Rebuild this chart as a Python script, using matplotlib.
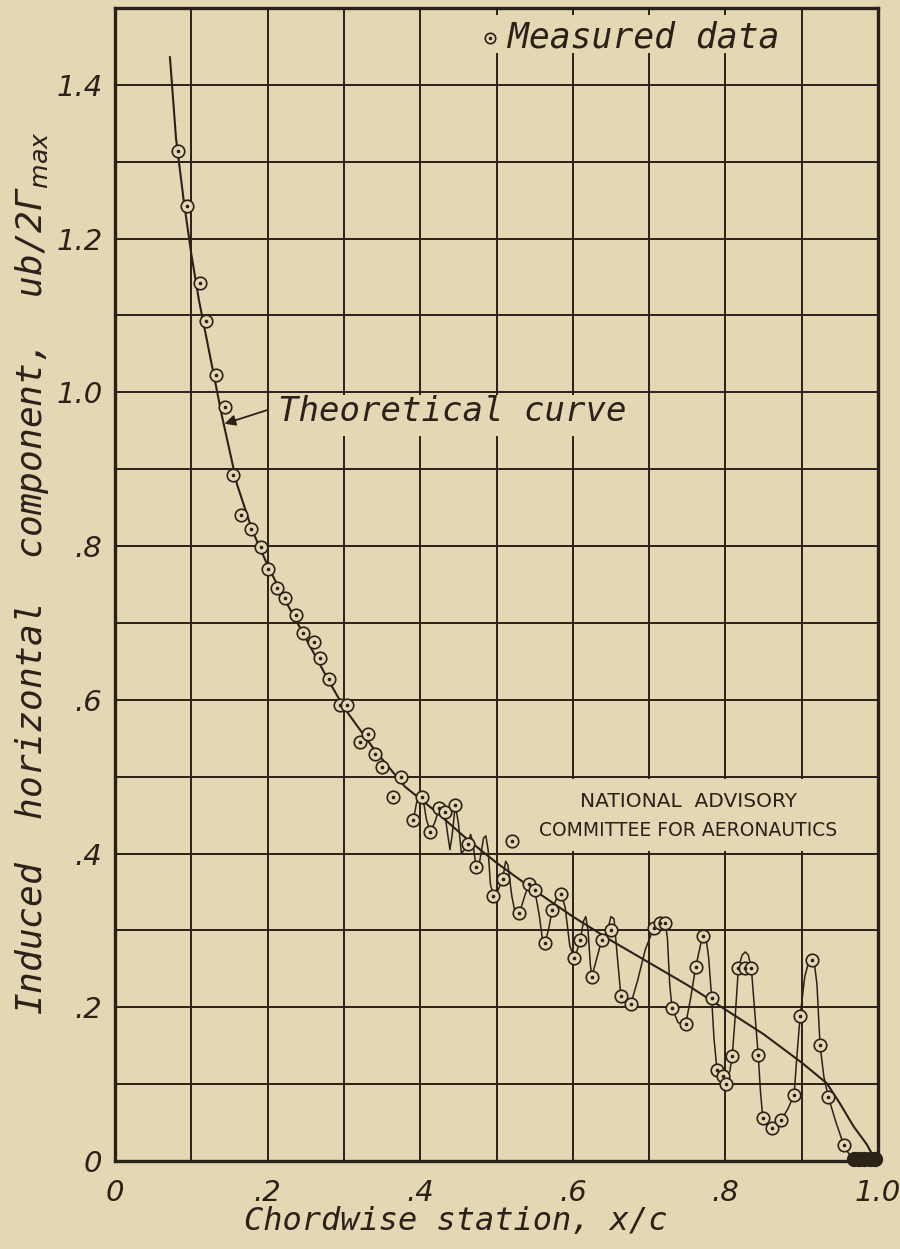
import numpy as np
import matplotlib
matplotlib.use("Agg")
import matplotlib.pyplot as plt
from matplotlib.patches import Rectangle

# ---------------- data ----------------
# Theoretical curve
theory_x = [0.072, 0.080, 0.090, 0.100, 0.110, 0.120, 0.130, 0.140, 0.150, 0.160,
            0.180, 0.200, 0.220, 0.250, 0.280, 0.300, 0.340, 0.380, 0.420, 0.460,
            0.500, 0.550, 0.600, 0.650, 0.700, 0.750, 0.800, 0.850, 0.900, 0.933,
            0.950, 0.968, 0.985, 0.994, 1.000]
theory_y = [1.436, 1.330, 1.250, 1.180, 1.120, 1.070, 1.020, 0.970, 0.925, 0.880,
            0.820, 0.775, 0.735, 0.680, 0.625, 0.590, 0.535, 0.487, 0.455, 0.420,
            0.388, 0.352, 0.318, 0.287, 0.258, 0.229, 0.197, 0.165, 0.128, 0.101,
            0.075, 0.045, 0.022, 0.006, 0.000]

# Measured data points
meas_x = [0.082, 0.094, 0.111, 0.119, 0.132, 0.144, 0.155, 0.165, 0.178, 0.192,
          0.201, 0.212, 0.223, 0.237, 0.247, 0.261, 0.269, 0.281, 0.295, 0.304,
          0.321, 0.331, 0.341, 0.350, 0.364, 0.375,
          0.391, 0.402, 0.413, 0.425, 0.432, 0.446, 0.463, 0.473, 0.496, 0.508,
          0.520, 0.530, 0.543, 0.550, 0.564, 0.573, 0.585, 0.602, 0.610, 0.625,
          0.638, 0.650, 0.663, 0.676, 0.706, 0.714, 0.721, 0.730, 0.748, 0.761,
          0.770, 0.782, 0.789, 0.797, 0.801, 0.809, 0.817, 0.826, 0.834, 0.843,
          0.849, 0.861, 0.873, 0.890, 0.898, 0.913, 0.924, 0.935, 0.955]
meas_y = [1.314, 1.243, 1.142, 1.093, 1.023, 0.981, 0.892, 0.840, 0.822, 0.799,
          0.770, 0.746, 0.733, 0.710, 0.687, 0.675, 0.655, 0.627, 0.593, 0.593,
          0.545, 0.556, 0.530, 0.512, 0.474, 0.499,
          0.443, 0.474, 0.428, 0.459, 0.454, 0.463, 0.413, 0.383, 0.345, 0.367,
          0.416, 0.322, 0.361, 0.353, 0.284, 0.327, 0.347, 0.264, 0.288, 0.240,
          0.288, 0.300, 0.215, 0.204, 0.303, 0.310, 0.310, 0.199, 0.178, 0.252,
          0.293, 0.212, 0.118, 0.110, 0.100, 0.137, 0.251, 0.251, 0.251, 0.138,
          0.056, 0.043, 0.053, 0.086, 0.189, 0.261, 0.151, 0.083, 0.021]

# Trailing-edge cluster (dark blob at zero)
te_x = [0.968, 0.975, 0.982, 0.989, 0.996]
te_y = [0.002, 0.002, 0.002, 0.002, 0.002]

wig_x = [0.391, 0.395, 0.400, 0.404, 0.408, 0.413, 0.419, 0.425, 0.432, 0.436,
         0.439, 0.442, 0.446, 0.450, 0.454, 0.458, 0.463, 0.466, 0.469, 0.473,
         0.478, 0.483, 0.486, 0.489, 0.492, 0.496, 0.502, 0.508, 0.512, 0.515,
         0.520, 0.525, 0.530, 0.537, 0.543, 0.550, 0.556, 0.560, 0.564, 0.569,
         0.573, 0.580, 0.585, 0.590, 0.596, 0.602, 0.606, 0.610, 0.614, 0.617,
         0.620, 0.623, 0.625, 0.631, 0.638, 0.645, 0.650, 0.654, 0.658, 0.663,
         0.670, 0.676, 0.685, 0.695, 0.706, 0.714, 0.721, 0.724, 0.727, 0.730,
         0.738, 0.748, 0.755, 0.761, 0.770, 0.774, 0.778, 0.782, 0.785, 0.789,
         0.797, 0.801, 0.806, 0.809, 0.813, 0.817, 0.822, 0.826, 0.830, 0.834,
         0.838, 0.843, 0.846, 0.849, 0.855, 0.861, 0.867, 0.873, 0.882, 0.890,
         0.894, 0.898, 0.904, 0.910, 0.916, 0.920, 0.924, 0.929, 0.935, 0.945,
         0.955, 0.965]
wig_y = [0.443, 0.465, 0.478, 0.470, 0.445, 0.428, 0.440, 0.459, 0.454, 0.425,
         0.405, 0.425, 0.463, 0.440, 0.400, 0.405, 0.413, 0.425, 0.415, 0.383,
         0.390, 0.420, 0.423, 0.405, 0.360, 0.345, 0.352, 0.367, 0.390, 0.385,
         0.345, 0.320, 0.322, 0.345, 0.361, 0.353, 0.320, 0.290, 0.284, 0.305,
         0.327, 0.345, 0.347, 0.330, 0.280, 0.264, 0.275, 0.288, 0.312, 0.318,
         0.300, 0.255, 0.240, 0.262, 0.288, 0.298, 0.318, 0.315, 0.270, 0.215,
         0.205, 0.204, 0.235, 0.275, 0.303, 0.312, 0.310, 0.290, 0.230, 0.199,
         0.180, 0.178, 0.215, 0.252, 0.293, 0.295, 0.265, 0.212, 0.160, 0.118,
         0.110, 0.100, 0.118, 0.137, 0.190, 0.251, 0.268, 0.272, 0.268, 0.251,
         0.200, 0.138, 0.090, 0.056, 0.045, 0.043, 0.047, 0.053, 0.068, 0.086,
         0.140, 0.189, 0.240, 0.262, 0.262, 0.230, 0.151, 0.110, 0.083, 0.050,
         0.021, 0.004]

grid_x = [0.0, 0.1, 0.2, 0.3, 0.4, 0.5, 0.6, 0.7, 0.8, 0.9, 1.0]
grid_y = [0.0, 0.1, 0.2, 0.3, 0.4, 0.5, 0.6, 0.7, 0.8, 0.9, 1.0, 1.1, 1.2, 1.3, 1.4, 1.5]
x_tick_labels = ['0', '', '.2', '', '.4', '', '.6', '', '.8', '', '1.0']
y_tick_labels = ['0', '', '.2', '', '.4', '', '.6', '', '.8', '', '1.0', '', '1.2', '', '1.4', '']

# ---------------- styling ----------------
BG = '#e4d7b3'
INK = '#2a2119'
TICKFONT = dict(family='DejaVu Sans', style='oblique')
LETTER = dict(family='DejaVu Sans Mono', style='oblique')

fig = plt.figure(figsize=(9, 12.49), dpi=100, facecolor=BG)
ax = fig.add_axes([115/900, 88/1249, 763/900, 1153/1249])
ax.set_facecolor(BG)
ax.set_xlim(0, 1.0)
ax.set_ylim(0, 1.5)

ax.set_xticks(grid_x)
ax.set_yticks(grid_y)
ax.set_xticklabels(x_tick_labels, fontsize=21, color=INK, **TICKFONT)
ax.set_yticklabels(y_tick_labels, fontsize=21, color=INK, **TICKFONT)
ax.tick_params(axis='x', length=0, pad=13)
ax.tick_params(axis='y', length=0, pad=9)
ax.set_axisbelow(True)
ax.grid(True, color=INK, lw=1.4)
for s in ax.spines.values():
    s.set_linewidth(2.4)
    s.set_color(INK)

# blank boxes behind the lettering (cover grid)
ax.add_patch(Rectangle((0.205, 0.943), 0.49, 0.054, facecolor=BG, edgecolor='none', zorder=1))
ax.add_patch(Rectangle((0.52, 0.403), 0.475, 0.094, facecolor=BG, edgecolor='none', zorder=1))
ax.add_patch(Rectangle((0.47, 1.441), 0.40, 0.050, facecolor=BG, edgecolor='none', zorder=1))

# theoretical curve
ax.plot(theory_x, theory_y, color=INK, lw=1.5, zorder=3)
# faired measured line
ax.plot(wig_x, wig_y, color=INK, lw=1.1, zorder=3)
# measured points
ax.plot(meas_x, meas_y, linestyle='none', marker='o', ms=9, mfc=BG, mec=INK, mew=1.2, zorder=4)
ax.plot(meas_x, meas_y, linestyle='none', marker='o', ms=1.6, mfc=INK, mec=INK, zorder=5)
ax.plot(te_x, te_y, linestyle='none', marker='o', ms=10, mfc=INK, mec=INK, zorder=4, clip_on=False)

# legend
ax.plot([0.491], [1.461], linestyle='none', marker='o', ms=7.5, mfc=BG, mec=INK, mew=1.2, zorder=4)
ax.plot([0.491], [1.461], linestyle='none', marker='o', ms=1.5, mfc=INK, mec=INK, zorder=5)
ax.text(0.515, 1.462, 'Measured data', fontsize=25, color=INK, va='center', ha='left', zorder=6, **LETTER)

# Theoretical curve annotation
ax.annotate('', xy=(0.140, 0.958), xytext=(0.203, 0.978),
            arrowprops=dict(arrowstyle='-|>', color=INK, lw=1.3, mutation_scale=16), zorder=6)
ax.text(0.214, 0.975, 'Theoretical curve', fontsize=24.5, color=INK, va='center', ha='left', zorder=6, **LETTER)

# NACA stamp
ax.text(0.751, 0.468, 'NATIONAL  ADVISORY', fontsize=14.5, color=INK, ha='center', va='center',
        family='DejaVu Sans', zorder=6)
ax.text(0.751, 0.430, 'COMMITTEE FOR AERONAUTICS', fontsize=13.5, color=INK, ha='center', va='center',
        family='DejaVu Sans', zorder=6)

# axis labels
fig.text(456/900, 1 - 1222/1249, 'Chordwise station, x/c', fontsize=23, color=INK,
         ha='center', va='center', **LETTER)
fig.text(32/900, 1 - 1015/1249, 'Induced  horizontal  component,  ub/2Γ$_{max}$', fontsize=26,
         color=INK, ha='center', va='bottom', rotation=90, **LETTER)

fig.savefig('out.png', dpi=100, facecolor=BG)
